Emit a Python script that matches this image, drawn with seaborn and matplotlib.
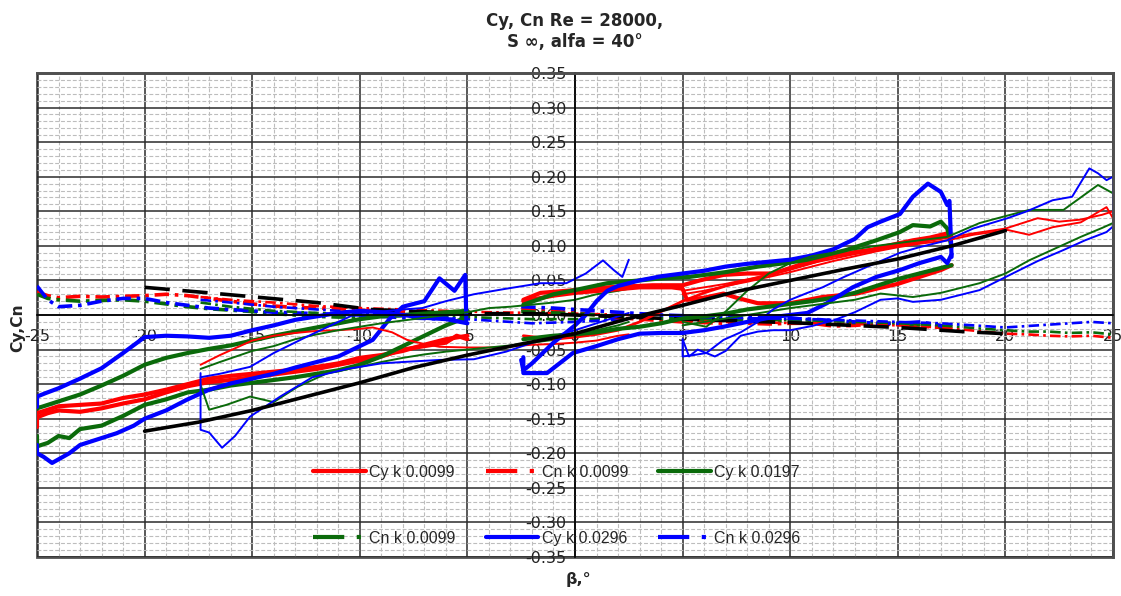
import matplotlib
matplotlib.use("Agg")
import matplotlib.pyplot as plt
import matplotlib.ticker as mticker
from matplotlib.lines import Line2D
import seaborn as sns

sns.set_style("white")
plt.rcParams['font.family'] = ['DejaVu Sans']
plt.rcParams['axes.unicode_minus'] = False

RED = '#ff0000'
GREEN = '#0a6a0a'
BLUE = '#0000ff'

# ---------------- theory (black) ----------------
theory_cy_x = [-20, -17.5, -15, -12.5, -10, -7.5, -5, -2.5, 0, 2.5, 5, 7.5, 10, 12.5, 15, 17.5, 20]
theory_cy_y = [-0.168, -0.155, -0.138, -0.118, -0.098, -0.076, -0.058, -0.042, -0.027, -0.005,
               0.014, 0.034, 0.050, 0.066, 0.081, 0.100, 0.122]
theory_cn_x = [-20, -17, -14.5, -12, -9.5, -5, -2, 0, 5, 10, 15, 18, 20]
theory_cn_y = [0.040, 0.032, 0.025, 0.018, 0.008, 0.002, 0.002, 0.000, -0.006, -0.011, -0.018, -0.024, -0.027]

# ---------------- run A : beta -25 .. -5 (thick) ----------------
A_cy_blue1_x = [-25, -25, -24.6, -24, -23, -22, -21, -20, -19, -18, -17, -16, -15, -14, -13, -12, -11, -10, -9, -8, -7, -6, -5]
A_cy_blue1_y = [-0.133, -0.118, -0.113, -0.106, -0.092, -0.077, -0.055, -0.032, -0.030, -0.031, -0.033, -0.030,
                -0.022, -0.015, -0.007, -0.002, 0.003, 0.006, 0.004, 0.000, -0.004, -0.006, -0.012]
A_cy_blue2_x = [-25, -25, -24.7, -24.3, -23.5, -23, -22, -21.3, -20.5, -20, -19, -18, -17, -16, -15, -14, -13, -12,
                -11, -10, -9.4, -8.6, -8, -7, -6.3, -5.6, -5.1, -5.05]
A_cy_blue2_y = [-0.188, -0.200, -0.205, -0.214, -0.200, -0.188, -0.178, -0.171, -0.160, -0.150, -0.138, -0.122,
                -0.108, -0.099, -0.092, -0.085, -0.076, -0.068, -0.060, -0.045, -0.036, -0.005, 0.012, 0.020,
                0.053, 0.035, 0.058, -0.007]
A_cy_green1_x = [-25, -24.5, -24, -23, -22, -21, -20, -19, -18, -17, -16, -15, -14, -13, -12, -11, -10, -9, -8, -7, -6, -5]
A_cy_green1_y = [-0.135, -0.130, -0.125, -0.115, -0.102, -0.088, -0.072, -0.062, -0.055, -0.049, -0.044, -0.037,
                 -0.030, -0.024, -0.018, -0.012, -0.006, -0.002, 0.000, 0.002, 0.004, 0.006]
A_cy_green2_x = [-25, -25, -24.5, -24, -23.5, -23, -22, -21, -20, -19, -18, -17, -16, -15, -14, -13, -12, -11, -10,
                 -9, -8, -7, -6, -5]
A_cy_green2_y = [-0.175, -0.190, -0.185, -0.175, -0.178, -0.165, -0.160, -0.146, -0.130, -0.122, -0.112, -0.108,
                 -0.102, -0.098, -0.094, -0.090, -0.085, -0.080, -0.072, -0.060, -0.045, -0.030, -0.015, -0.003]
A_cy_red1_x = [-25, -25, -24.5, -24, -23, -22, -21, -20, -19, -18, -17, -16, -15, -14, -13, -12, -11, -10, -9, -8,
               -7, -6, -5.5, -5]
A_cy_red1_y = [-0.162, -0.148, -0.142, -0.138, -0.140, -0.135, -0.128, -0.122, -0.112, -0.103, -0.097, -0.094,
               -0.090, -0.086, -0.082, -0.078, -0.072, -0.066, -0.060, -0.050, -0.045, -0.040, -0.030, -0.035]
A_cy_red2_x = [-25, -24, -23, -22, -21, -20, -19, -18, -17, -16, -15, -14, -13, -12, -11, -10, -9, -8, -7, -6, -5]
A_cy_red2_y = [-0.142, -0.132, -0.130, -0.128, -0.120, -0.115, -0.108, -0.100, -0.092, -0.088, -0.085, -0.082,
               -0.079, -0.075, -0.070, -0.062, -0.058, -0.052, -0.043, -0.035, -0.030]

A_cn_x = [-25, -24.5, -24, -23, -22, -21, -20, -19, -18, -17, -16, -15, -14, -13, -12, -11, -10, -9, -8, -7, -6, -5]
A_cn_red = [0.033, 0.028, 0.025, 0.027, 0.026, 0.027, 0.028, 0.030, 0.028, 0.024, 0.020, 0.016, 0.013, 0.011,
            0.010, 0.009, 0.007, 0.005, 0.004, 0.003, 0.002, 0.001]
A_cn_green = [0.030, 0.024, 0.022, 0.020, 0.021, 0.022, 0.020, 0.016, 0.012, 0.009, 0.007, 0.005, 0.002, 0.000,
              -0.002, -0.003, -0.003, -0.002, -0.001, 0.000, 0.001, 0.002]
A_cn_blue = [0.042, 0.022, 0.012, 0.014, 0.020, 0.024, 0.024, 0.018, 0.014, 0.010, 0.008, 0.006, 0.004, 0.003,
             0.002, 0.001, 0.000, -0.002, -0.004, -0.005, -0.006, -0.006]

# ---------------- run B : beta -17.4 .. 2.5 (thin) ----------------
B_cy_red_x = [-17.4, -16.5, -15.5, -15, -14, -13, -12, -11, -10, -9.4, -8.5, -7.8, -7, -6.3, -5, -4, -3.2, -2, -1,
              0, 1, 2, 2.5]
B_cy_red_y = [-0.072, -0.058, -0.044, -0.037, -0.030, -0.026, -0.023, -0.022, -0.020, -0.018, -0.025, -0.036,
              -0.042, -0.046, -0.047, -0.047, -0.046, -0.043, -0.042, -0.040, -0.037, -0.030, -0.028]
B_cy_green1_x = [-17.4, -16.5, -15, -14, -13, -12, -11, -10, -9, -8, -7, -6, -5, -4, -3, -2, -1, 0, 1, 2, 2.5]
B_cy_green1_y = [-0.078, -0.068, -0.052, -0.045, -0.035, -0.028, -0.022, -0.017, -0.012, -0.008, -0.004, 0.000,
                 0.004, 0.010, 0.012, 0.015, 0.018, 0.022, 0.030, 0.035, 0.038]
B_cy_green2_x = [-17.4, -17, -16.2, -15.1, -14, -12.9, -11.5, -10, -9, -8, -7, -6, -5, -4, -3, -2, -1, 0, 1, 2, 2.5]
B_cy_green2_y = [-0.101, -0.137, -0.130, -0.118, -0.126, -0.104, -0.084, -0.075, -0.068, -0.062, -0.057, -0.053,
                 -0.050, -0.047, -0.044, -0.040, -0.036, -0.030, -0.022, -0.015, -0.010]
B_cy_blue1_x = [-17.4, -17.4, -17, -16.4, -15.8, -15.1, -13.7, -12.2, -10.6, -9, -8, -6.3, -4.7, -3.2, -1.6, 0, 1, 2, 2.5]
B_cy_blue1_y = [-0.084, -0.166, -0.170, -0.192, -0.175, -0.147, -0.118, -0.090, -0.078, -0.070, -0.068, -0.065,
                -0.064, -0.053, -0.036, -0.022, -0.012, -0.002, 0.003]
B_cy_blue2_x = [-17.4, -16.5, -15.1, -14, -12.5, -11, -10.1, -9, -8, -7.1, -6, -4.7, -3.2, -1.6, -0.4, 0.5, 1.3,
                1.8, 2.2, 2.5]
B_cy_blue2_y = [-0.090, -0.085, -0.075, -0.055, -0.032, -0.010, 0.003, 0.005, 0.008, 0.010, 0.020, 0.030, 0.038,
                0.046, 0.046, 0.060, 0.079, 0.065, 0.055, 0.080]

B_cn_x = [-17.4, -16, -14, -12, -10, -8, -6, -4, -2, 0, 2.5]
B_cn_red = [0.026, 0.022, 0.018, 0.013, 0.010, 0.008, 0.006, 0.004, 0.003, 0.002, 0.000]
B_cn_green = [0.018, 0.012, 0.006, 0.003, 0.001, 0.000, -0.002, -0.004, -0.006, -0.006, -0.005]
B_cn_blue = [0.022, 0.018, 0.012, 0.008, 0.004, 0.000, -0.004, -0.008, -0.012, -0.010, -0.006]

# ---------------- run C : beta -2.5 .. 17.5 (thick) ----------------
C_cy_blue1_x = [-2.5, -2.4, -2, -1, 0, 0.5, 1, 1.5, 2, 3, 4, 5, 6, 7, 8, 9, 10, 11, 12, 13, 13.6, 14.2, 15.1, 15.7,
                16.4, 17, 17.3, 17.4, 17.5]
C_cy_blue1_y = [-0.065, -0.080, -0.070, -0.040, -0.015, 0.000, 0.020, 0.035, 0.042, 0.050, 0.056, 0.060, 0.064,
                0.070, 0.074, 0.077, 0.080, 0.086, 0.095, 0.110, 0.127, 0.135, 0.146, 0.171, 0.190, 0.178, 0.159,
                0.165, 0.084]
C_cy_blue2_x = [-2.4, -2.4, -1.3, -0.1, 1, 2, 3, 4, 5, 6, 6.9, 8, 9.2, 10.8, 11.7, 12.9, 14, 15.1, 16, 17, 17.3, 17.5]
C_cy_blue2_y = [-0.061, -0.084, -0.084, -0.055, -0.045, -0.035, -0.027, -0.026, -0.026, -0.022, -0.017, -0.010,
                -0.003, 0.003, 0.017, 0.040, 0.055, 0.065, 0.075, 0.084, 0.075, 0.088]
C_cy_green1_x = [-2.4, -1, 0, 1.5, 3, 4, 5.3, 7, 8.5, 10, 10.8, 12.6, 14, 15.1, 15.7, 16.5, 17, 17.3, 17.5]
C_cy_green1_y = [0.015, 0.030, 0.036, 0.046, 0.050, 0.053, 0.055, 0.062, 0.070, 0.076, 0.080, 0.094, 0.108, 0.120,
                 0.130, 0.128, 0.135, 0.125, 0.098]
C_cy_green2_x = [-2.4, -1, 0, 1, 2, 3, 4, 5, 6, 7, 8, 9, 10, 11, 12, 13, 14, 15, 16, 17, 17.5]
C_cy_green2_y = [-0.035, -0.030, -0.028, -0.025, -0.020, -0.017, -0.012, -0.005, -0.002, 0.002, 0.008, 0.012,
                 0.016, 0.020, 0.025, 0.032, 0.042, 0.052, 0.060, 0.068, 0.072]
C_cy_red1_x = [-2.4, -1.6, 0, 1.5, 3.6, 5, 5.8, 6.9, 8, 9.2, 10, 11.5, 12.5, 13.8, 14.2, 15.7, 16.5, 17.3, 17.5]
C_cy_red1_y = [0.022, 0.032, 0.036, 0.040, 0.043, 0.043, 0.050, 0.058, 0.060, 0.060, 0.068, 0.084, 0.088, 0.094,
               0.098, 0.108, 0.112, 0.118, 0.112]
C_cy_red2_x = [-2.4, -1, 0, 1.5, 3, 4.5, 5, 5.2, 6, 6.9, 7.5, 8.5, 10, 11.5, 13.1, 14, 15, 16, 17, 17.5]
C_cy_red2_y = [0.020, 0.028, 0.032, 0.036, 0.040, 0.040, 0.038, 0.022, 0.025, 0.031, 0.025, 0.017, 0.017, 0.026,
               0.031, 0.038, 0.045, 0.055, 0.065, 0.072]
C_cy_red3_x = [-2.4, -1, 0, 1, 2, 3, 4, 5, 6, 7, 8, 9, 10, 11, 12, 13, 14, 15, 16, 17, 17.5]
C_cy_red3_y = [-0.030, -0.035, -0.032, -0.028, -0.022, -0.010, 0.005, 0.020, 0.032, 0.042, 0.050, 0.058, 0.066,
               0.075, 0.085, 0.092, 0.096, 0.100, 0.105, 0.112, 0.115]

C_cn_x = [-2.5, -1, 0, 1, 2, 3, 4, 5, 6, 7, 8, 9, 10, 11, 12, 13, 14, 15, 16, 17, 17.5]
C_cn_red = [0.008, 0.005, 0.003, 0.000, -0.004, -0.006, -0.008, -0.010, -0.011, -0.012, -0.012, -0.013, -0.012,
            -0.012, -0.016, -0.015, -0.013, -0.014, -0.016, -0.018, -0.022]
C_cn_green = [0.005, 0.003, 0.002, 0.000, -0.002, -0.004, -0.005, -0.006, -0.006, -0.007, -0.007, -0.008, -0.008,
              -0.009, -0.010, -0.011, -0.012, -0.012, -0.014, -0.016, -0.022]
C_cn_blue = [0.012, 0.010, 0.008, 0.006, 0.004, 0.002, 0.000, -0.001, -0.003, -0.003, -0.004, -0.004, -0.005,
             -0.006, -0.008, -0.010, -0.012, -0.012, -0.010, -0.015, -0.028]

# ---------------- run D : beta 5 .. 25 (thin) ----------------
D_cy_blue1_x = [5, 5, 5.5, 6.1, 6.9, 7.7, 8.5, 9.2, 10, 10.8, 11.5, 12.5, 13.6, 14.5, 15.1, 16, 17.3, 18.5, 20.1,
                21, 22.2, 23.1, 23.9, 24.3, 24.7, 25, 25]
D_cy_blue1_y = [-0.035, -0.060, -0.058, -0.055, -0.036, -0.025, -0.010, 0.008, 0.022, 0.032, 0.040, 0.055, 0.070,
                0.082, 0.090, 0.098, 0.108, 0.125, 0.140, 0.150, 0.166, 0.171, 0.212, 0.205, 0.195, 0.200, 0.147]
D_cy_blue2_x = [5, 5.3, 5.7, 6.1, 6.5, 7, 7.7, 8.5, 9.2, 10, 11, 12, 13, 14.2, 15, 15.7, 17, 18.8, 20.4, 21.5, 22.7,
                23.7, 24.7, 25]
D_cy_blue2_y = [-0.035, -0.060, -0.050, -0.055, -0.060, -0.052, -0.030, -0.024, -0.022, -0.022, -0.016, -0.008,
                0.004, 0.022, 0.024, 0.019, 0.022, 0.036, 0.061, 0.078, 0.094, 0.108, 0.120, 0.128]
D_cy_green1_x = [5, 6.1, 7, 8, 9, 10, 11, 12, 13, 14, 15, 16, 17.3, 18.8, 20, 21.1, 22.7, 23.5, 24.3, 25]
D_cy_green1_y = [-0.010, -0.017, 0.005, 0.035, 0.060, 0.075, 0.085, 0.090, 0.095, 0.100, 0.104, 0.108, 0.113,
                 0.133, 0.143, 0.152, 0.152, 0.170, 0.188, 0.176]
D_cy_green2_x = [5, 6, 7, 8, 9, 10, 11, 12, 13, 14.2, 15.7, 17, 18.8, 20, 21.1, 22.3, 23.5, 24.5, 25]
D_cy_green2_y = [-0.015, -0.010, -0.005, 0.000, 0.005, 0.010, 0.014, 0.018, 0.022, 0.031, 0.026, 0.032, 0.046,
                 0.060, 0.079, 0.096, 0.113, 0.126, 0.133]
D_cy_red1_x = [5, 6, 7, 8, 9, 10, 11, 12, 13, 14, 15, 16, 17.3, 18.5, 20.1, 21.1, 22.2, 23.5, 24.7, 25]
D_cy_red1_y = [0.030, 0.035, 0.042, 0.048, 0.055, 0.062, 0.070, 0.078, 0.085, 0.092, 0.098, 0.103, 0.108, 0.116,
               0.123, 0.116, 0.127, 0.134, 0.156, 0.140]
D_cy_red2_x = [5, 7, 9, 11, 13, 15, 17, 18.5, 20, 21.5, 22.5, 23.5, 24.5, 25]
D_cy_red2_y = [0.035, 0.045, 0.058, 0.075, 0.088, 0.100, 0.110, 0.118, 0.125, 0.140, 0.135, 0.138, 0.145, 0.150]

D_cn_x = [5, 7, 9, 11, 13, 15, 17, 19, 20, 21, 22, 23, 24, 25]
D_cn_red = [-0.008, -0.010, -0.011, -0.012, -0.013, -0.015, -0.018, -0.024, -0.027, -0.028, -0.030, -0.031, -0.030, -0.033]
D_cn_green = [-0.004, -0.006, -0.007, -0.008, -0.010, -0.012, -0.015, -0.020, -0.022, -0.024, -0.024, -0.026, -0.025, -0.028]
D_cn_blue = [-0.002, -0.004, -0.005, -0.006, -0.008, -0.010, -0.012, -0.016, -0.018, -0.016, -0.014, -0.012, -0.010, -0.012]

legend_labels = ['Cy k 0.0099', 'Cn k 0.0099', 'Cy k 0.0197', 'Cn k 0.0099', 'Cy k 0.0296', 'Cn k 0.0296']

# ---------------- styles ----------------
LW_THICK, LW_THIN = 3.0, 1.4
LW_CN_THICK, LW_CN_THIN = 2.6, 1.9
CN_DASH = (0, (4, 1.6, 1, 1.6))

fig = plt.figure(figsize=(11.21, 5.96), dpi=100)
ax = fig.add_axes([37 / 1121, 1 - 557 / 596, (1113 - 37) / 1121, (557 - 73) / 596])


def draw(x, y, color, lw, ls='-'):
    sns.lineplot(x=x, y=y, ax=ax, color=color, linewidth=lw, linestyle=ls,
                 sort=False, estimator=None, errorbar=None, legend=False)


# Cn (dash-dot)
for xs, ys, c, lw in [
    (A_cn_x, A_cn_red, RED, LW_CN_THICK), (A_cn_x, A_cn_green, GREEN, LW_CN_THICK), (A_cn_x, A_cn_blue, BLUE, LW_CN_THICK),
    (B_cn_x, B_cn_red, RED, LW_CN_THIN), (B_cn_x, B_cn_green, GREEN, LW_CN_THIN), (B_cn_x, B_cn_blue, BLUE, LW_CN_THIN),
    (C_cn_x, C_cn_red, RED, LW_CN_THICK), (C_cn_x, C_cn_green, GREEN, LW_CN_THICK), (C_cn_x, C_cn_blue, BLUE, LW_CN_THICK),
    (D_cn_x, D_cn_red, RED, LW_CN_THIN), (D_cn_x, D_cn_green, GREEN, LW_CN_THIN), (D_cn_x, D_cn_blue, BLUE, LW_CN_THIN),
]:
    draw(xs, ys, c, lw, CN_DASH)

# theory
draw(theory_cn_x, theory_cn_y, 'black', 2.6, (0, (7, 3.5)))

# Cy (solid)
for xs, ys, c, lw in [
    (A_cy_red1_x, A_cy_red1_y, RED, LW_THICK), (A_cy_red2_x, A_cy_red2_y, RED, LW_THICK),
    (A_cy_green1_x, A_cy_green1_y, GREEN, LW_THICK), (A_cy_green2_x, A_cy_green2_y, GREEN, LW_THICK),
    (A_cy_blue1_x, A_cy_blue1_y, BLUE, LW_THICK), (A_cy_blue2_x, A_cy_blue2_y, BLUE, LW_THICK),
    (B_cy_red_x, B_cy_red_y, RED, LW_THIN),
    (B_cy_green1_x, B_cy_green1_y, GREEN, LW_THIN), (B_cy_green2_x, B_cy_green2_y, GREEN, LW_THIN),
    (B_cy_blue1_x, B_cy_blue1_y, BLUE, LW_THIN), (B_cy_blue2_x, B_cy_blue2_y, BLUE, LW_THIN),
    (C_cy_red1_x, C_cy_red1_y, RED, LW_THICK), (C_cy_red2_x, C_cy_red2_y, RED, LW_THICK),
    (C_cy_red3_x, C_cy_red3_y, RED, 2.0),
    (C_cy_green1_x, C_cy_green1_y, GREEN, LW_THICK), (C_cy_green2_x, C_cy_green2_y, GREEN, LW_THICK),
    (C_cy_blue1_x, C_cy_blue1_y, BLUE, LW_THICK), (C_cy_blue2_x, C_cy_blue2_y, BLUE, LW_THICK),
    (D_cy_red1_x, D_cy_red1_y, RED, LW_THIN), (D_cy_red2_x, D_cy_red2_y, RED, LW_THIN),
    (D_cy_green1_x, D_cy_green1_y, GREEN, LW_THIN), (D_cy_green2_x, D_cy_green2_y, GREEN, LW_THIN),
    (D_cy_blue1_x, D_cy_blue1_y, BLUE, LW_THIN), (D_cy_blue2_x, D_cy_blue2_y, BLUE, LW_THIN),
]:
    draw(xs, ys, c, lw)

draw(theory_cy_x, theory_cy_y, 'black', 2.6)

# ---------------- axes ----------------
ax.set_xlim(-25, 25)
ax.set_ylim(-0.35, 0.35)
ax.xaxis.set_major_locator(mticker.MultipleLocator(5))
ax.xaxis.set_minor_locator(mticker.MultipleLocator(1))
ax.yaxis.set_major_locator(mticker.MultipleLocator(0.05))
ax.yaxis.set_minor_locator(mticker.MultipleLocator(0.01))
ax.xaxis.set_major_formatter(mticker.FormatStrFormatter('%d'))
ax.yaxis.set_major_formatter(mticker.FormatStrFormatter('%.2f'))
ax.grid(which='major', color='#2b2b2b', linewidth=1.1)
ax.grid(which='minor', color='#bdbdbd', linewidth=0.8, linestyle=(0, (3.5, 1.8)))
ax.set_axisbelow(True)

# outer frame of the plot area
ax.patch.set_edgecolor('#505050')
ax.patch.set_linewidth(2.0)

ax.spines['left'].set_position(('data', 0))
ax.spines['bottom'].set_position(('data', 0))
for s in ['left', 'bottom']:
    ax.spines[s].set_color('black')
    ax.spines[s].set_linewidth(1.2)
for s in ['top', 'right']:
    ax.spines[s].set_color('#505050')
    ax.spines[s].set_linewidth(2.0)

ax.tick_params(which='both', length=0)
ax.tick_params(axis='y', pad=6, labelsize=11.5, colors='#222222')
ax.tick_params(axis='x', pad=10, labelsize=11.5, colors='#222222')

ax.set_title("Cy, Cn Re = 28000,\nS \u221e, alfa = 40\u00b0", fontweight='bold', fontsize=12, pad=19)
ax.set_ylabel('Cy,Cn', fontweight='bold', fontsize=11.2)
ax.yaxis.set_label_coords(-0.011, 0.473)
ax.set_xlabel('\u03b2,\u00b0', fontweight='bold', fontsize=11.5)
ax.xaxis.set_label_coords(0.503, -0.03)

# ---------------- legend ----------------
cn_leg_dash = (0, (7.5, 3, 1, 10))
handles = [
    Line2D([], [], color=RED, lw=3),
    Line2D([], [], color=RED, lw=3, linestyle=cn_leg_dash),
    Line2D([], [], color=GREEN, lw=3),
    Line2D([], [], color=GREEN, lw=3, linestyle=cn_leg_dash),
    Line2D([], [], color=BLUE, lw=3),
    Line2D([], [], color=BLUE, lw=3, linestyle=cn_leg_dash),
]
order = [0, 3, 1, 4, 2, 5]
leg = ax.legend([handles[i] for i in order], [legend_labels[i] for i in order], ncol=3,
                loc='center', bbox_to_anchor=(0.483, 0.107), frameon=False,
                prop={'family': 'Liberation Sans', 'size': 11.5},
                handlelength=3.3, handletextpad=0.2, columnspacing=1.9,
                labelspacing=3.2, borderpad=0, borderaxespad=0)
leg.set_zorder(10)

fig.savefig('out.png', dpi=100)
